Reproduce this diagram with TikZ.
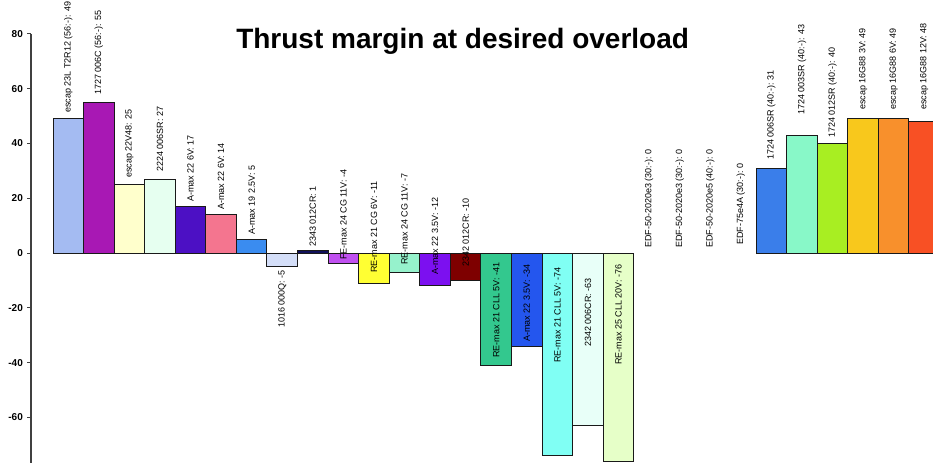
\documentclass[tikz,border=0pt]{standalone}
\usepackage{fontspec}
\setmainfont{Liberation Sans}
\definecolor{bar1}{HTML}{A4BBF2}
\definecolor{bar2}{HTML}{A818B4}
\definecolor{bar3}{HTML}{FFFFCC}
\definecolor{bar4}{HTML}{E6FFF0}
\definecolor{bar5}{HTML}{4C10C4}
\definecolor{bar6}{HTML}{F4758F}
\definecolor{bar7}{HTML}{3A8CF0}
\definecolor{bar8}{HTML}{D4DEF8}
\definecolor{bar9}{HTML}{10105A}
\definecolor{bar10}{HTML}{C050F0}
\definecolor{bar11}{HTML}{FFFF33}
\definecolor{bar12}{HTML}{96F2CC}
\definecolor{bar13}{HTML}{7C10F0}
\definecolor{bar14}{HTML}{7E0000}
\definecolor{bar15}{HTML}{33C88E}
\definecolor{bar16}{HTML}{2456EE}
\definecolor{bar17}{HTML}{80FFF4}
\definecolor{bar18}{HTML}{E8FFF8}
\definecolor{bar19}{HTML}{E6FFC8}
\definecolor{bar24}{HTML}{3A7EEA}
\definecolor{bar25}{HTML}{88F8C8}
\definecolor{bar26}{HTML}{A8EE22}
\definecolor{bar27}{HTML}{F8C81C}
\definecolor{bar28}{HTML}{F8902C}
\definecolor{bar29}{HTML}{F85024}
\begin{document}
\begin{tikzpicture}[
x=30.57pt, y=2.74pt,
bar/.style = {draw=black!90, line width=1pt},
barlabel/.style = {rotate=90, anchor=west, inner sep=0pt, font=\fontsize{9}{9}\selectfont},
ticklabel/.style = {anchor=east, inner sep=0pt, font=\fontsize{10}{10}\selectfont\bfseries},
    ]
\useasboundingbox (-1.734,-78.47) rectangle (28.787,92.34);
\clip (-1.734,-78.47) rectangle (28.787,92.34);
%
\node[font=\fontsize{28}{28}\selectfont\bfseries, anchor=base] (title) at (13.4,74.8) {Thrust margin at desired overload};
%
\draw[line width=1.2pt, black!75] (-0.72,80) -- (-0.72,-76.8);
    \foreach \t in {-60,-40,...,80}
{
    \draw[line width=1pt, black!75] (-0.72,\t) -- +(-0.13,0);
    \node[ticklabel] (tick\t) at (-0.98,\t) {\t};
}
%
    \foreach \i/\v/\ly/\txt in {
    1/49/51.1/{escap 23L T2R12 (56:-): 49},
    2/55/57.7/{1727 006C (56:-): 55},
    3/25/27.4/{escap 22V48: 25},
    4/27/29.6/{2224 006SR: 27},
    5/17/18.6/{A-max 22 6V: 17},
    6/14/15.7/{A-max 22 6V: 14},
    7/5/6.6/{A-max 19 2.5V: 5},
    8/-5/-27.4/{1016 000Q: -5},
    9/1/2.2/{2343 012CR: 1},
    10/-4/-2.6/{FE-max 24 CG 11V: -4},
    11/-11/-7.3/{RE-max 21 CG 6V: -11},
    12/-7/-4.4/{RE-max 24 CG 11V: -7},
    13/-12/-8.0/{A-max 22 3.5V: -12},
    14/-10/-5.1/{2342 012CR: -10},
    15/-41/-38.3/{RE-max 21 CLL 5V: -41},
    16/-34/-32.5/{A-max 22 3.5V: -34},
    17/-74/-40.1/{RE-max 21 CLL 5V: -74},
    18/-63/-34.3/{2342 006CR: -63},
    19/-76/-40.9/{RE-max 25 CLL 20V: -76},
    20/0/1.8/{EDF-50-2020e3 (30:-): 0},
    21/0/1.8/{EDF-50-2020e3 (30:-): 0},
    22/0/1.8/{EDF-50-2020e5 (40:-): 0},
    23/0/2.9/{EDF-75e4A (30:-): 0},
    24/31/33.9/{1724 006SR (40:-): 31},
    25/43/50.4/{1724 003SR (40:-): 43},
    26/40/42.0/{1724 012SR (40:-): 40},
    27/49/52.2/{escap 16G88 3V: 49},
    28/49/52.2/{escap 16G88 6V: 49},
    29/48/52.2/{escap 16G88 12V: 48}}
{
    \ifnum\v=0 \else \draw[bar, fill=bar\i] (\i-1,0) rectangle (\i,\v); \fi
    \node[barlabel] (lbl\i) at (\i-0.5,\ly) {\txt};
}

\end{tikzpicture}
\end{document}
